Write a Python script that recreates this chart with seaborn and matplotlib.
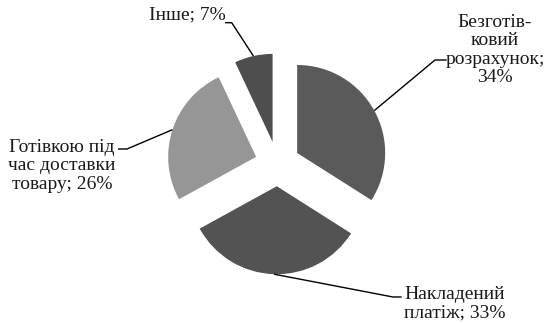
import numpy as np
import matplotlib
matplotlib.use("Agg")
import matplotlib.pyplot as plt
import seaborn as sns

categories = ["Безготів-\nковий\nрозрахунок", "Накладений\nплатіж", "Готівкою під\nчас доставки\nтовару", "Інше"]
values = [34, 33, 26, 7]
colors = ["#5a5a5a", "#535353", "#969696", "#4e4e4e"]
separators = ";\n", "; ", "; ", "; "

sns.set_theme(style="white")
FONT = "Liberation Serif"

W, H = 548, 323
fig = plt.figure(figsize=(W / 100, H / 100), dpi=100)
ax = fig.add_axes([0, 0, 1, 1])

cx_px, cy_px, scale = 277.5, 163.8, 88.0
explode = 0.255

wedges, _ = ax.pie(values, colors=colors, startangle=90, counterclock=False,
                   explode=[explode] * len(values), radius=1.0,
                   wedgeprops=dict(linewidth=0))
ax.set_aspect("auto")
ax.set_xlim(-cx_px / scale, (W - cx_px) / scale)
ax.set_ylim(-(H - cy_px) / scale, cy_px / scale)
ax.axis("off")

def d(px, py):
    return ((px - cx_px) / scale, (cy_px - py) / scale)

# label centers and leader elbows (pixel positions -> data)
label_pos = [d(495, 50), d(455, 303.5), d(62, 166), d(187, 15)]
elbows = [(d(446.7, 60), d(435, 60)),
          (d(401.7, 297), d(393, 297)),
          (d(118, 149), d(127, 149)),
          (d(225, 22.7), d(231.7, 22.7))]

for w, cat, v, sep, lp, (e_text, e_knee) in zip(wedges, categories, values, separators, label_pos, elbows):
    ang = np.deg2rad((w.theta1 + w.theta2) / 2)
    ax_, ay_ = w.center[0] + w.r * np.cos(ang), w.center[1] + w.r * np.sin(ang)
    ax.plot([e_text[0], e_knee[0], ax_], [e_text[1], e_knee[1], ay_],
            color="black", lw=1.0, solid_capstyle="butt")
    ax.text(lp[0], lp[1], f"{cat}{sep}{v}%", ha="center", va="center",
            fontsize=14, family=FONT, color="#1a1a1a", linespacing=1.1)

fig.savefig("out.png", dpi=100)
